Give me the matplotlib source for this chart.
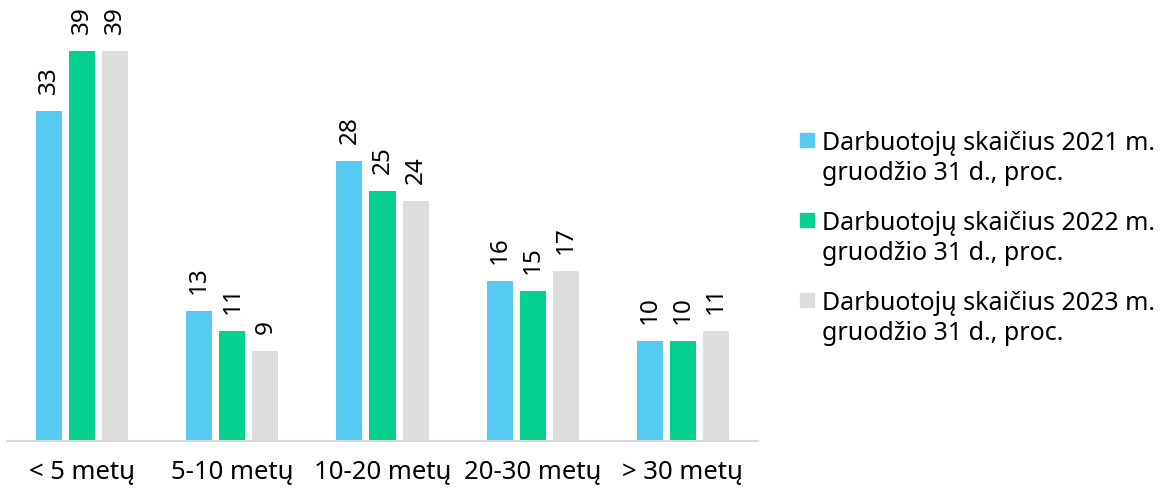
import matplotlib
matplotlib.use("Agg")
import matplotlib.pyplot as plt
from matplotlib.patches import Rectangle
import numpy as np

categories = ["< 5 metų", "5-10 metų", "10-20 metų", "20-30 metų", "> 30 metų"]
series_labels = [
    "Darbuotojų skaičius 2021 m.\ngruodžio 31 d., proc.",
    "Darbuotojų skaičius 2022 m.\ngruodžio 31 d., proc.",
    "Darbuotojų skaičius 2023 m.\ngruodžio 31 d., proc.",
]
values_2021 = [33, 13, 28, 16, 10]
values_2022 = [39, 11, 25, 15, 10]
values_2023 = [39, 9, 24, 17, 11]
colors = ["#55CBF2", "#05D08F", "#DDDDDD"]

FS = 18
plt.rcParams['font.family'] = ['Noto Sans', 'DejaVu Sans']
W, H = 1166, 494
fig = plt.figure(figsize=(W / 100, H / 100), dpi=100)
ax = fig.add_axes([7 / W, 1 - 441 / H, 751 / W, 441 / H])

x = np.arange(len(categories))
width = 26 / 150
step = 33 / 150
for i, (vals, col) in enumerate(zip([values_2021, values_2022, values_2023], colors)):
    xs = x + (i - 1) * step
    ax.bar(xs, vals, width=width, color=col, zorder=2)
    for xi, v in zip(xs, vals):
        ax.annotate(str(v), (xi, v), xytext=(0, 12), textcoords="offset points",
                    rotation=90, ha="center", va="bottom", fontsize=17.5, clip_on=False)

ax.set_xlim(-0.5, 4.5)
ax.set_ylim(0, 44.1)
ax.set_xticks(x)
ax.set_xticklabels(categories, fontsize=18.5)
ax.tick_params(axis='x', length=0, pad=13)
ax.set_yticks([])
for s in ["top", "right", "left"]:
    ax.spines[s].set_visible(False)
ax.spines["bottom"].set_color("#D9D9D9")
ax.spines["bottom"].set_linewidth(1.5)

# legend (manual layout)
for i, (lab, col) in enumerate(zip(series_labels, colors)):
    sq_top = 133 + 80 * i
    fig.patches.append(Rectangle((800 / W, 1 - (sq_top + 14) / H), 14 / W, 14 / H,
                                 transform=fig.transFigure, color=col, figure=fig))
    base = 150 + 80 * i
    for j, line in enumerate(lab.split("\n")):
        fig.text(822 / W, 1 - (base + 30 * j) / H, line, ha="left", va="baseline",
                 fontsize=FS)

fig.savefig("out.png", dpi=100)
